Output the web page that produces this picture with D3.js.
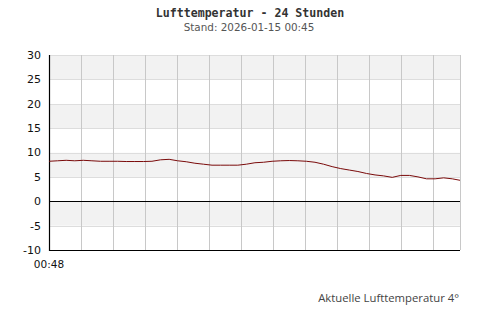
<!DOCTYPE html>
<html lang="de">
<head>
<meta charset="UTF-8">
<title>Lufttemperatur - 24 Stunden</title>
<script src="https://d3js.org/d3.v7.min.js"></script>
<style>
  body { margin: 0; background: #fff; }
  svg { display: block; }
</style>
</head>
<body>
<script>
// minutes since 00:48 (previous day) and air temperature in °C
const minutes = [0, 30, 60, 90, 120, 150, 180, 210, 240, 270, 300, 330, 360, 390, 420, 450,
  480, 510, 540, 570, 600, 630, 660, 690, 720, 750, 780, 810, 840, 870, 900, 930,
  960, 990, 1020, 1050, 1080, 1110, 1140, 1170, 1200, 1230, 1260, 1290, 1320, 1350, 1380, 1410, 1437];
const temps = [8.2, 8.3, 8.4, 8.3, 8.4, 8.3, 8.2, 8.2, 8.2, 8.15, 8.15, 8.15, 8.2, 8.5, 8.6, 8.3,
  8.1, 7.8, 7.6, 7.4, 7.4, 7.4, 7.4, 7.6, 7.9, 8.0, 8.2, 8.3, 8.35, 8.3, 8.2, 8.0,
  7.6, 7.1, 6.7, 6.4, 6.1, 5.7, 5.4, 5.2, 4.9, 5.3, 5.3, 5.0, 4.6, 4.6, 4.8, 4.6, 4.3];
const yTicks = [-10, -5, 0, 5, 10, 15, 20, 25, 30];
const xGrid = d3.range(112, 1437, 112);
const startLabel = "00:48";
const title = "Lufttemperatur - 24 Stunden";
const subtitle = "Stand: 2026-01-15 00:45";
const footer = "Aktuelle Lufttemperatur 4°";

const width = 500, height = 320;
const margin = {top: 55, right: 40, bottom: 70, left: 49};

const svg = d3.select("body").append("svg")
  .attr("width", width)
  .attr("height", height);

const x = d3.scaleLinear().domain([0, 1437]).range([margin.left, width - margin.right]);
const y = d3.scaleLinear().domain([-10, 30]).range([height - margin.bottom, margin.top]);

// alternating bands, grey where upper bound is 30, 20, 10, 0
const bands = d3.range(-10, 30, 5);
svg.selectAll(".band").data(bands).enter().append("rect")
  .attr("x", x(0))
  .attr("width", x(1437) - x(0))
  .attr("y", d => y(d + 5))
  .attr("height", d => y(d) - y(d + 5))
  .attr("fill", d => ((d + 10) / 5) % 2 === 1 ? "#f2f2f2" : "#ffffff");

// horizontal grid
svg.selectAll(".hgrid").data(yTicks).enter().append("line")
  .attr("x1", x(0)).attr("x2", x(1437))
  .attr("y1", d => Math.round(y(d)) + 0.5).attr("y2", d => Math.round(y(d)) + 0.5)
  .attr("stroke", "#dddddd");

// vertical grid
svg.selectAll(".vgrid").data(xGrid.concat([1437])).enter().append("line")
  .attr("x1", d => Math.round(x(d)) + 0.5).attr("x2", d => Math.round(x(d)) + 0.5)
  .attr("y1", y(30)).attr("y2", y(-10))
  .attr("stroke", "#c8c8c8");

// zero line
svg.append("line")
  .attr("x1", x(0)).attr("x2", x(1437))
  .attr("y1", Math.round(y(0)) + 0.5).attr("y2", Math.round(y(0)) + 0.5)
  .attr("stroke", "#000");

// axes lines
svg.append("line")
  .attr("x1", x(0) + 0.5).attr("x2", x(0) + 0.5)
  .attr("y1", y(30)).attr("y2", Math.round(y(-10)) + 1)
  .attr("stroke", "#000").attr("stroke-width", 1.2);
svg.append("line")
  .attr("x1", x(0)).attr("x2", x(1437))
  .attr("y1", Math.round(y(-10)) + 0.5).attr("y2", Math.round(y(-10)) + 0.5)
  .attr("stroke", "#000").attr("stroke-width", 1.2);

// temperature line
const pts = minutes.map((m, i) => [m, temps[i]]);
svg.append("path")
  .datum(pts)
  .attr("fill", "none")
  .attr("stroke", "#7a0a0a")
  .attr("stroke-width", 1)
  .attr("d", d3.line().x(d => x(d[0])).y(d => y(d[1])));

// y tick labels
svg.selectAll(".ylab").data(yTicks).enter().append("text")
  .attr("x", 41)
  .attr("y", d => y(d))
  .attr("dy", "0.36em")
  .attr("text-anchor", "end")
  .attr("font-family", "DejaVu Sans, sans-serif")
  .attr("font-size", 11)
  .attr("fill", "#111")
  .text(d => d);

// x start label
svg.append("text")
  .attr("x", x(0))
  .attr("y", 268)
  .attr("text-anchor", "middle")
  .attr("font-family", "DejaVu Sans, sans-serif")
  .attr("font-size", 10.5)
  .attr("fill", "#111")
  .text(startLabel);

// title + subtitle
svg.append("text")
  .attr("x", 250).attr("y", 17)
  .attr("text-anchor", "middle")
  .attr("font-family", "DejaVu Sans Mono, monospace")
  .attr("font-weight", "bold")
  .attr("font-size", 11.6)
  .attr("fill", "#333")
  .text(title);
svg.append("text")
  .attr("x", 249).attr("y", 31)
  .attr("text-anchor", "middle")
  .attr("font-family", "DejaVu Sans, sans-serif")
  .attr("font-size", 10.4)
  .attr("fill", "#555")
  .text(subtitle);

// footer
svg.append("text")
  .attr("x", 459).attr("y", 302)
  .attr("text-anchor", "end")
  .attr("font-family", "Open Sans, sans-serif")
  .attr("font-size", 11.3)
  .attr("fill", "#444")
  .text(footer);
</script>
</body>
</html>
